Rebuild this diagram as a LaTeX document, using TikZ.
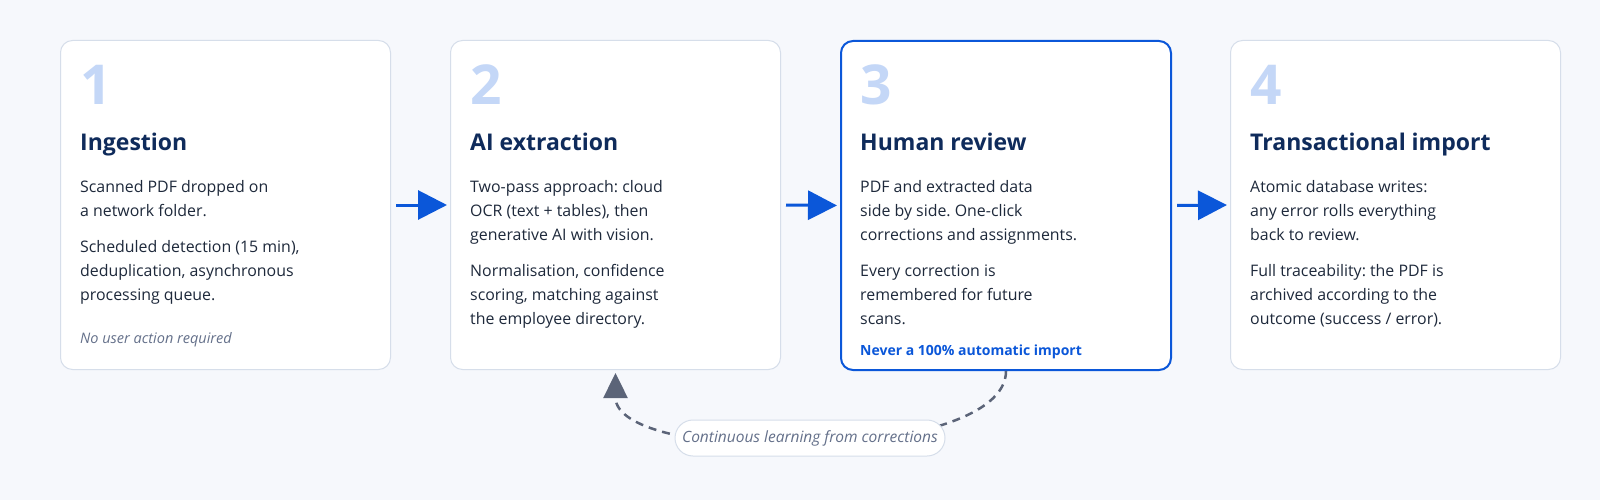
\documentclass[tikz,border=0pt]{standalone}
\usepackage{fontspec}
\setmainfont{Open Sans}
\usetikzlibrary{arrows.meta,calc}
\definecolor{bgc}{HTML}{F6F8FC}
\definecolor{cardline}{HTML}{D6DEEA}
\definecolor{accent}{HTML}{0B57D9}
\definecolor{numc}{HTML}{C4D7F7}
\definecolor{titlec}{HTML}{0F2B5B}
\definecolor{bodyc}{HTML}{1E293B}
\definecolor{notec}{HTML}{64708A}
\definecolor{fbc}{HTML}{5B6478}
\frenchspacing
\newcommand\cardtext[1]{\parbox[t]{300pt}{\fontsize{15.9}{24}\selectfont\setlength{\parskip}{12pt}\setlength{\parindent}{0pt}#1}}
\begin{document}
\begin{tikzpicture}[x=1pt,y=-1pt,
  card/.style={draw=cardline,line width=1pt,fill=white,rounded corners=12pt,
    minimum width=330pt,minimum height=329pt,inner sep=0pt,anchor=north west},
  hotcard/.style={card,draw=accent,line width=2pt},
  num/.style={anchor=base west,inner sep=0pt,text=numc,font=\fontsize{55}{56}\selectfont\bfseries},
  ttl/.style={anchor=base west,inner sep=0pt,text=titlec,font=\fontsize{23}{28}\selectfont\bfseries},
  body/.style={anchor=base west,inner sep=0pt,text=bodyc},
  note/.style={anchor=base west,inner sep=0pt,text=notec,font=\fontsize{14.5}{18}\selectfont\itshape},
  bluenote/.style={anchor=base west,inner sep=0pt,text=accent,font=\fontsize{14}{18}\selectfont\bfseries},
  flow/.style={draw=accent,line width=3pt,-{Triangle[length=29pt,width=29pt]}},
  fb/.style={draw=fbc,line width=2.5pt,dash pattern=on 8pt off 6pt,-{Triangle[length=25pt,width=24pt]}},
  pill/.style={draw=cardline,line width=1pt,fill=white,rounded corners=18pt,
    minimum width=270pt,minimum height=36pt,inner sep=0pt,text=notec,
    font=\fontsize{15.5}{18}\selectfont\itshape}]
\useasboundingbox[fill=bgc] (0,0) rectangle (1600,500);

% cards
\node[card] (b1) at (60,40) {};
\node[card] (b2) at (450,40) {};
\node[hotcard] (b3) at (840,40) {};
\node[card] (b4) at (1230,40) {};

% card 1
\node[num] (n1) at (80,105) {1};
\node[ttl] (h1) at (80,150) {Ingestion};
\node[body] (t1) at (80,192) {\cardtext{Scanned PDF dropped on\\a network folder.\par Scheduled detection (15 min),\\deduplication, asynchronous\\processing queue.}};
\node[note] (m1) at (80,343) {No user action required};

% card 2
\node[num] (n2) at (470,105) {2};
\node[ttl] (h2) at (470,150) {AI extraction};
\node[body] (t2) at (470,192) {\cardtext{Two-pass approach: cloud\\OCR (text + tables), then\\generative AI with vision.\par Normalisation, confidence\\scoring, matching against\\the employee directory.}};

% card 3
\node[num] (n3) at (860,105) {3};
\node[ttl] (h3) at (860,150) {Human review};
\node[body] (t3) at (860,192) {\cardtext{PDF and extracted data\\side by side. One-click\\corrections and assignments.\par Every correction is\\remembered for future\\scans.}};
\node[bluenote] (m3) at (860,355) {Never a 100\% automatic import};

% card 4
\node[num] (n4) at (1250,105) {4};
\node[ttl] (h4) at (1250,150) {Transactional import};
\node[body] (t4) at (1250,192) {\cardtext{Atomic database writes:\\any error rolls everything\\back to review.\par Full traceability: the PDF is\\archived according to the\\outcome (success / error).}};

% flow arrows
\draw[flow] ($(b1.east)+(5,0)$) -- ($(b2.west)+(-3,0)$);
\draw[flow] ($(b2.east)+(5,0)$) -- ($(b3.west)+(-3,0)$);
\draw[flow] ($(b3.east)+(5,0)$) -- ($(b4.west)+(-3,0)$);

% feedback loop
\draw[fb] (b3.south) .. controls +(0,93) and +(0,93) .. ($(b2.south)+(0,3)$);
\node[pill] (lp) at (810,438) {Continuous learning from corrections};
\end{tikzpicture}
\end{document}
